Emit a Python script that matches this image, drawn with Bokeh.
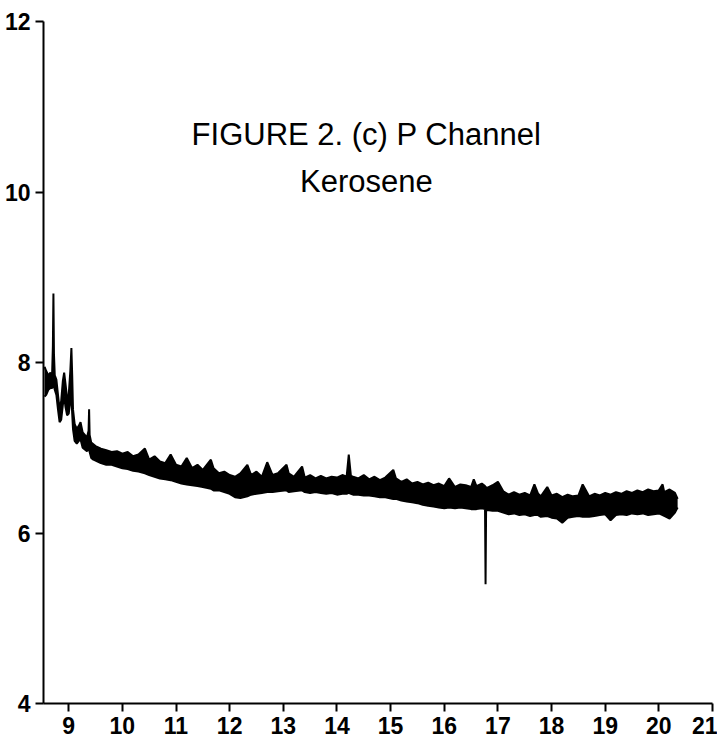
from bokeh.plotting import figure
from bokeh.models import Range1d, FixedTicker, Label, ColumnDataSource
from bokeh.embed import file_html
from bokeh.resources import INLINE

# retention time (min)
time = [8.55, 8.58, 8.62, 8.66, 8.69, 8.705, 8.715, 8.725, 8.74, 8.77, 8.80, 8.83, 8.86, 8.89,
        8.915, 8.94, 8.97, 9.00, 9.03, 9.05, 9.065, 9.08, 9.11, 9.15, 9.19, 9.22, 9.26, 9.30,
        9.34, 9.37, 9.38, 9.39, 9.42, 9.46, 9.50,
        9.6, 9.7, 9.8, 9.9, 10.0, 10.1, 10.2, 10.3, 10.42, 10.5, 10.6, 10.7, 10.8, 10.9,
        11.0, 11.1, 11.2, 11.3, 11.4, 11.5, 11.65, 11.7, 11.8, 11.9, 12.0, 12.1, 12.2, 12.33,
        12.4, 12.5, 12.6, 12.7, 12.8, 12.9, 13.06, 13.1, 13.2, 13.35, 13.4, 13.5, 13.6, 13.7,
        13.8, 13.9, 14.0, 14.1, 14.18, 14.22, 14.26, 14.3, 14.4, 14.5, 14.6, 14.7, 14.8, 14.9,
        15.05, 15.1, 15.2, 15.3, 15.4, 15.5, 15.6, 15.7, 15.8, 15.9, 16.0, 16.09, 16.2, 16.3,
        16.4, 16.5, 16.55, 16.6, 16.7, 16.76, 16.77, 16.78, 16.8, 16.9, 17.0, 17.1, 17.2, 17.3,
        17.4, 17.5, 17.6, 17.68, 17.75, 17.8, 17.92, 18.0, 18.1, 18.2, 18.3, 18.4, 18.5, 18.58,
        18.7, 18.8, 18.9, 19.0, 19.1, 19.2, 19.3, 19.4, 19.5, 19.6, 19.7, 19.8, 19.9, 20.0,
        20.07, 20.1, 20.2, 20.3, 20.35]

# upper edge of the detector trace band
upper = [7.95, 7.90, 7.85, 7.88, 7.85, 8.20, 8.81, 8.10, 7.85, 7.80, 7.62, 7.45, 7.55, 7.78,
         7.88, 7.75, 7.58, 7.62, 7.90, 8.17, 7.85, 7.45, 7.28, 7.22, 7.26, 7.30, 7.18, 7.15,
         7.12, 7.20, 7.45, 7.15, 7.06, 7.04, 7.02,
         6.99, 6.97, 6.95, 6.96, 6.93, 6.95, 6.90, 6.92, 6.99, 6.86, 6.90, 6.84, 6.82, 6.92,
         6.80, 6.78, 6.88, 6.76, 6.80, 6.74, 6.86, 6.76, 6.70, 6.72, 6.68, 6.66, 6.70, 6.80,
         6.68, 6.72, 6.66, 6.83, 6.68, 6.70, 6.80, 6.70, 6.66, 6.78, 6.65, 6.68, 6.64, 6.67,
         6.64, 6.66, 6.65, 6.68, 6.66, 6.92, 6.67, 6.66, 6.64, 6.68, 6.63, 6.66, 6.62, 6.65,
         6.74, 6.64, 6.60, 6.63, 6.58, 6.60, 6.57, 6.59, 6.56, 6.58, 6.55, 6.64, 6.54, 6.57,
         6.56, 6.54, 6.63, 6.55, 6.58, 6.55, 6.52, 6.54, 6.53, 6.56, 6.60, 6.49, 6.45, 6.48,
         6.45, 6.47, 6.44, 6.57, 6.46, 6.43, 6.54, 6.44, 6.46, 6.42, 6.45, 6.43, 6.44, 6.57,
         6.43, 6.46, 6.44, 6.47, 6.45, 6.48, 6.46, 6.49, 6.47, 6.50, 6.48, 6.51, 6.49, 6.50,
         6.57, 6.48, 6.51, 6.47, 6.40]

# lower edge of the detector trace band
lower = [7.60, 7.62, 7.68, 7.70, 7.70, 7.72, 7.75, 7.72, 7.68, 7.62, 7.45, 7.30, 7.33, 7.50,
         7.60, 7.48, 7.38, 7.40, 7.55, 7.60, 7.40, 7.22, 7.08, 7.05, 7.08, 7.10, 7.00, 6.98,
         6.96, 6.98, 7.00, 6.95, 6.88, 6.86, 6.85,
         6.82, 6.80, 6.80, 6.78, 6.76, 6.75, 6.73, 6.72, 6.70, 6.68, 6.66, 6.64, 6.63, 6.62,
         6.60, 6.58, 6.57, 6.56, 6.55, 6.54, 6.52, 6.50, 6.50, 6.48, 6.46, 6.42, 6.41, 6.43,
         6.45, 6.46, 6.47, 6.48, 6.48, 6.49, 6.50, 6.48, 6.49, 6.50, 6.48, 6.47, 6.48, 6.47,
         6.46, 6.47, 6.45, 6.46, 6.46, 6.47, 6.46, 6.45, 6.45, 6.44, 6.44, 6.43, 6.42, 6.42,
         6.40, 6.40, 6.38, 6.37, 6.36, 6.35, 6.33, 6.32, 6.31, 6.30, 6.29, 6.30, 6.29, 6.30,
         6.29, 6.28, 6.28, 6.28, 6.29, 6.28, 5.40, 6.28, 6.27, 6.26, 6.26, 6.24, 6.22, 6.23,
         6.21, 6.22, 6.20, 6.21, 6.21, 6.19, 6.20, 6.18, 6.17, 6.12, 6.18, 6.19, 6.20, 6.19,
         6.19, 6.20, 6.21, 6.22, 6.15, 6.21, 6.22, 6.21, 6.23, 6.22, 6.23, 6.21, 6.22, 6.23,
         6.21, 6.20, 6.17, 6.24, 6.30]

x_ticks = [9, 10, 11, 12, 13, 14, 15, 16, 17, 18, 19, 20, 21]
y_ticks = [4, 6, 8, 10, 12]
title_line1 = "FIGURE 2. (c) P Channel"
title_line2 = "Kerosene"

src = ColumnDataSource(dict(t=time, hi=upper, lo=lower))

p = figure(width=717, height=742, output_backend="svg", toolbar_location=None,
           x_range=Range1d(8.53, 21.0), y_range=Range1d(4, 12),
           min_border_left=43, min_border_right=5, min_border_top=21, min_border_bottom=39)
p.outline_line_color = None
p.grid.visible = False
p.background_fill_color = "white"
p.border_fill_color = "white"

p.varea(x="t", y1="lo", y2="hi", source=src, fill_color="black")
p.line(x="t", y="hi", source=src, line_color="black", line_width=2)
p.line(x="t", y="lo", source=src, line_color="black", line_width=2)

for ax in (p.xaxis[0], p.yaxis[0]):
    ax.axis_line_width = 2
    ax.axis_line_color = "black"
    ax.major_tick_line_width = 2
    ax.major_tick_line_color = "black"
    ax.major_tick_out = 8
    ax.major_tick_in = 0
    ax.minor_tick_out = 0
    ax.minor_tick_in = 0
    ax.major_label_text_font = "Liberation Sans"
    ax.major_label_text_font_style = "bold"
    ax.major_label_text_font_size = "23px"
    ax.major_label_text_color = "black"
    ax.major_label_standoff = 5

p.xaxis.ticker = FixedTicker(ticks=x_ticks)
p.yaxis.ticker = FixedTicker(ticks=y_ticks)

p.add_layout(Label(x=14.55, y=10.68, text=title_line1, text_align="center",
                   text_baseline="alphabetic", text_font="Liberation Sans",
                   text_font_size="31px", text_color="black"))
p.add_layout(Label(x=14.55, y=10.12, text=title_line2, text_align="center",
                   text_baseline="alphabetic", text_font="Liberation Sans",
                   text_font_size="31px", text_color="black"))

open("out.html", "w").write(file_html(p, INLINE))
